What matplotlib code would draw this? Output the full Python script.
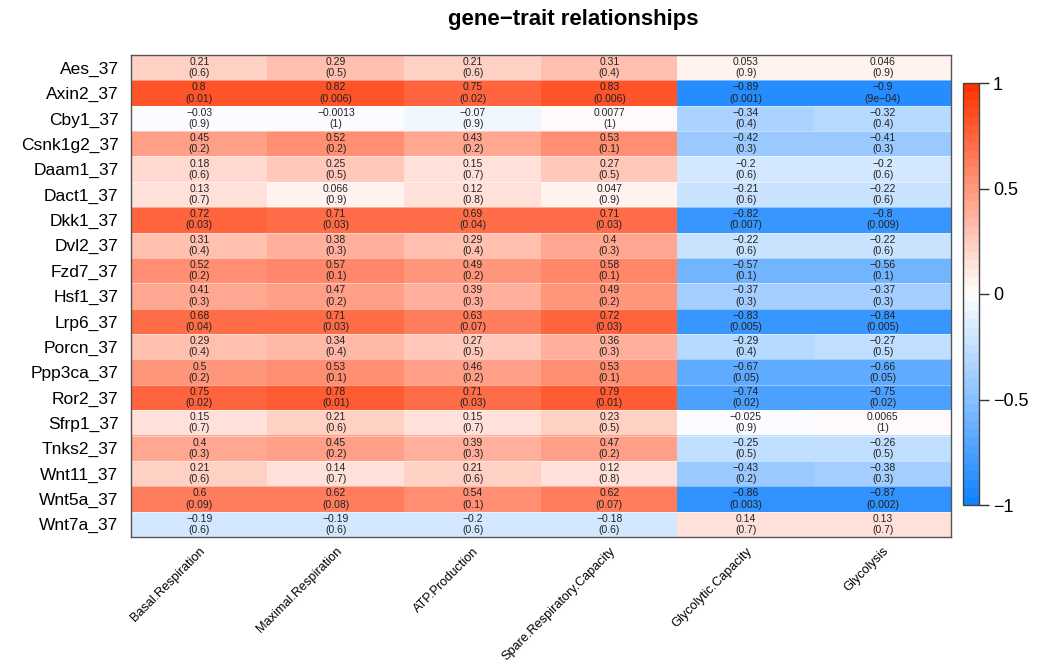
import numpy as np
import matplotlib
matplotlib.use("Agg")
import matplotlib.pyplot as plt
from matplotlib.colors import LinearSegmentedColormap

genes = ["Aes_37", "Axin2_37", "Cby1_37", "Csnk1g2_37", "Daam1_37", "Dact1_37",
         "Dkk1_37", "Dvl2_37", "Fzd7_37", "Hsf1_37", "Lrp6_37", "Porcn_37",
         "Ppp3ca_37", "Ror2_37", "Sfrp1_37", "Tnks2_37", "Wnt11_37", "Wnt5a_37",
         "Wnt7a_37"]
traits = ["Basal.Respiration", "Maximal.Respiration", "ATP.Production",
          "Spare.Respiratory.Capacity", "Glycolytic.Capacity", "Glycolysis"]

cor_values = [
    [0.21, 0.29, 0.21, 0.31, 0.053, 0.046],
    [0.8, 0.82, 0.75, 0.83, -0.89, -0.9],
    [-0.03, -0.0013, -0.07, 0.0077, -0.34, -0.32],
    [0.45, 0.52, 0.43, 0.53, -0.42, -0.41],
    [0.18, 0.25, 0.15, 0.27, -0.2, -0.2],
    [0.13, 0.066, 0.12, 0.047, -0.21, -0.22],
    [0.72, 0.71, 0.69, 0.71, -0.82, -0.8],
    [0.31, 0.38, 0.29, 0.4, -0.22, -0.22],
    [0.52, 0.57, 0.49, 0.58, -0.57, -0.56],
    [0.41, 0.47, 0.39, 0.49, -0.37, -0.37],
    [0.68, 0.71, 0.63, 0.72, -0.83, -0.84],
    [0.29, 0.34, 0.27, 0.36, -0.29, -0.27],
    [0.5, 0.53, 0.46, 0.53, -0.67, -0.66],
    [0.75, 0.78, 0.71, 0.79, -0.74, -0.75],
    [0.15, 0.21, 0.15, 0.23, -0.025, 0.0065],
    [0.4, 0.45, 0.39, 0.47, -0.25, -0.26],
    [0.21, 0.14, 0.21, 0.12, -0.43, -0.38],
    [0.6, 0.62, 0.54, 0.62, -0.86, -0.87],
    [-0.19, -0.19, -0.2, -0.18, 0.14, 0.13],
]
p_values = [
    [0.6, 0.5, 0.6, 0.4, 0.9, 0.9],
    [0.01, 0.006, 0.02, 0.006, 0.001, 0.0009],
    [0.9, 1, 0.9, 1, 0.4, 0.4],
    [0.2, 0.2, 0.2, 0.1, 0.3, 0.3],
    [0.6, 0.5, 0.7, 0.5, 0.6, 0.6],
    [0.7, 0.9, 0.8, 0.9, 0.6, 0.6],
    [0.03, 0.03, 0.04, 0.03, 0.007, 0.009],
    [0.4, 0.3, 0.4, 0.3, 0.6, 0.6],
    [0.2, 0.1, 0.2, 0.1, 0.1, 0.1],
    [0.3, 0.2, 0.3, 0.2, 0.3, 0.3],
    [0.04, 0.03, 0.07, 0.03, 0.005, 0.005],
    [0.4, 0.4, 0.5, 0.3, 0.4, 0.5],
    [0.2, 0.1, 0.2, 0.1, 0.05, 0.05],
    [0.02, 0.01, 0.03, 0.01, 0.02, 0.02],
    [0.7, 0.6, 0.7, 0.5, 0.9, 1],
    [0.3, 0.2, 0.3, 0.2, 0.5, 0.5],
    [0.6, 0.7, 0.6, 0.8, 0.2, 0.3],
    [0.09, 0.08, 0.1, 0.07, 0.003, 0.002],
    [0.6, 0.6, 0.6, 0.6, 0.7, 0.7],
]
cbar_ticks = [-1, -0.5, 0, 0.5, 1]
cbar_ticklabels = ["\u22121", "\u22120.5", "0", "0.5", "1"]

MINUS = "\u2212"


def r_format(v, digits):
    """Mimic R's signif + format choice between fixed and scientific."""
    fixed = np.format_float_positional(v, precision=digits, unique=True,
                                       fractional=False, trim='-')
    sci_m = f"{v:.{digits - 1}e}"
    mant, exp = sci_m.split("e")
    e = int(exp)
    sci = f"{mant}e{'-' if e < 0 else '+'}{abs(e):02d}"
    s = sci if len(sci) < len(fixed) else fixed
    return s.replace("-", MINUS)


plt.rcParams['font.family'] = ['Liberation Sans', 'DejaVu Sans']

W, H = 1049, 664
fig = plt.figure(figsize=(W / 100, H / 100), dpi=100)

x0, x1 = 131, 951
y0, y1 = 55, 537
ax = fig.add_axes([x0 / W, 1 - y1 / H, (x1 - x0) / W, (y1 - y0) / H])

cmap = LinearSegmentedColormap.from_list(
    "bwr_wgcna", ["#1283FF", "#FFFFFF", "#FF3300"], N=50)

vals = np.array(cor_values)
nr, nc = vals.shape
im = ax.imshow(vals, cmap=cmap, vmin=-1, vmax=1, aspect='auto',
               interpolation='nearest', extent=(-0.5, nc - 0.5, nr - 0.5, -0.5))
for i in range(nr - 1):
    ax.axhline(i + 0.5, color='white', lw=0.6, alpha=0.5)

for i in range(nr):
    for j in range(nc):
        ax.annotate(r_format(cor_values[i][j], 2), xy=(j, i), xytext=(0, 4.0),
                    textcoords='offset points', ha='center', va='center',
                    fontsize=7.5, color='#222222')
        ax.annotate("(" + r_format(p_values[i][j], 1) + ")", xy=(j, i),
                    xytext=(0, -4.0), textcoords='offset points',
                    ha='center', va='center', fontsize=7.5, color='#222222')

ax.set_xlim(-0.5, nc - 0.5)
ax.set_ylim(nr - 0.5, -0.5)
ax.set_yticks(range(nr))
ax.set_yticklabels(genes, fontsize=12.5)
ax.set_xticks(range(nc))
ax.set_xticklabels(traits, rotation=45, ha='right', rotation_mode='anchor',
                   fontsize=9.2)
ax.tick_params(axis='y', length=0, pad=9)
ax.tick_params(axis='x', length=0, pad=6)
for s in ax.spines.values():
    s.set_color('#555555')
    s.set_linewidth(1.0)

fig.text(573 / W, 1 - 20 / H, "gene" + MINUS + "trait relationships",
         fontsize=16, fontweight='bold', ha='center', va='center')

cb0, cb1 = 963, 979
cby0, cby1 = 83, 505
cax = fig.add_axes([cb0 / W, 1 - cby1 / H, (cb1 - cb0) / W, (cby1 - cby0) / H])
cb = fig.colorbar(im, cax=cax, ticks=cbar_ticks)
cb.ax.set_yticklabels(cbar_ticklabels, fontsize=13)
cb.ax.tick_params(length=7, width=1, color='#333333', pad=3)
cb.outline.set_edgecolor('#444444')
cb.outline.set_linewidth(1.0)

fig.savefig("out.png", dpi=100)
